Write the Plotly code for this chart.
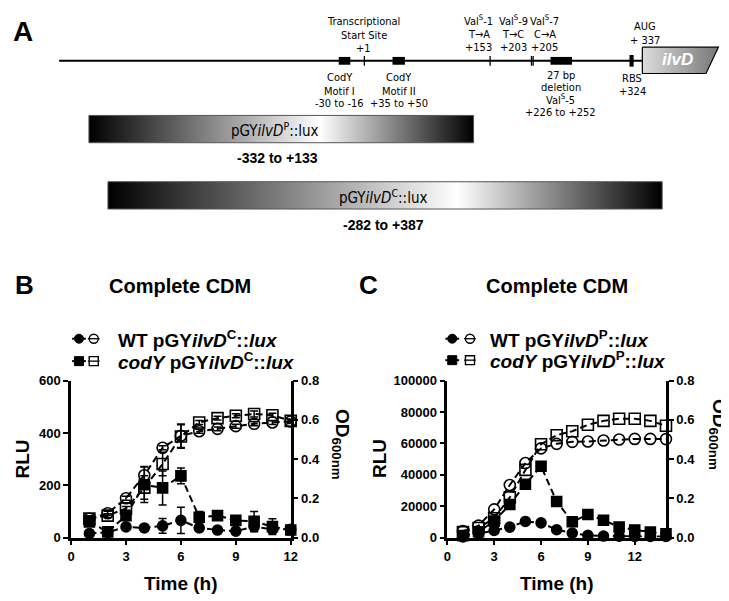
import plotly.graph_objects as go

W, H = 729, 601

# ---- panel B: complete CDM, pGYilvD^C::lux ----
hours_b = [1, 2, 3, 4, 5, 6, 7, 8, 9, 10, 11, 12]
wt_rlu_b = [16, 20, 41, 37, 45, 66, 37, 29, 25, 42, 32, 32]
wt_rlu_b_sd = [6, 4, 10, 6, 28, 50, 8, 12, 10, 20, 15, 10]
cody_rlu_b = [60, 22, 84, 202, 190, 236, 78, 84, 66, 62, 42, 29]
cody_rlu_b_sd = [15, 5, 15, 68, 65, 30, 22, 8, 18, 38, 30, 18]
wt_od_b = [0.096, 0.124, 0.201, 0.318, 0.458, 0.519, 0.542, 0.554, 0.568, 0.580, 0.587, 0.592]
wt_od_b_sd = [0.01, 0.01, 0.01, 0.045, 0.01, 0.06, 0.01, 0.01, 0.01, 0.01, 0.01, 0.01]
cody_od_b = [0.097, 0.112, 0.149, 0.255, 0.375, 0.515, 0.587, 0.609, 0.621, 0.630, 0.624, 0.595]
cody_od_b_sd = [0.015, 0.01, 0.01, 0.06, 0.06, 0.06, 0.01, 0.01, 0.01, 0.015, 0.01, 0.01]

# ---- panel C: complete CDM, pGYilvD^P::lux ----
hours_c = [1, 2, 3, 4, 5, 6, 7, 8, 9, 10, 11, 12, 13, 14]
wt_rlu_c = [400, 2500, 4600, 6700, 10300, 9400, 5000, 2900, 1400, 1000, 900, 800, 700, 700]
cody_rlu_c = [1300, 3700, 10500, 21100, 34000, 45500, 23000, 10100, 14700, 11100, 6800, 4900, 3600, 2400]
wt_od_c = [0.033, 0.061, 0.144, 0.268, 0.38, 0.455, 0.478, 0.488, 0.49, 0.495, 0.5, 0.503, 0.503, 0.502]
cody_od_c = [0.028, 0.049, 0.099, 0.205, 0.345, 0.476, 0.522, 0.542, 0.575, 0.595, 0.606, 0.606, 0.595, 0.570]

# ---- panel A: features on the ilvD promoter (bp relative to +1) ----
tss = 1
motifs = [(-30, -16), (35, 50)]
snps = [153, 203, 205]
deletion = (226, 252)
rbs = 324
aug = 337

ARIAL = "Arial, Liberation Sans, sans-serif"
NARROW = "Liberation Sans Narrow, Arial Narrow, DejaVu Sans Condensed, Liberation Sans"


def fx(x):
    return x / W


def fy(y):
    return 1 - y / H


fig = go.Figure()


def series(x, y, sd, xa, ya, symbol, size):
    fig.add_trace(go.Scatter(
        x=x, y=y, xaxis=xa, yaxis=ya, mode="lines+markers",
        line=dict(color="black", width=2, dash="7px,4px"),
        marker=dict(symbol=symbol, size=size, color="black", line=dict(color="black", width=1.6)),
        error_y=dict(type="data", array=sd, color="black", thickness=1.5, width=4, visible=sd is not None),
        cliponaxis=False, showlegend=False, hoverinfo="skip"))


series(hours_b, wt_od_b, wt_od_b_sd, "x", "y2", "circle-open", 11)
series(hours_b, cody_od_b, cody_od_b_sd, "x", "y2", "square-open", 11)
series(hours_b, wt_rlu_b, wt_rlu_b_sd, "x", "y", "circle", 10)
series(hours_b, cody_rlu_b, cody_rlu_b_sd, "x", "y", "square", 10)

series(hours_c, wt_od_c, None, "x2", "y4", "circle-open", 11)
series(hours_c, cody_od_c, None, "x2", "y4", "square-open", 11)
series(hours_c, wt_rlu_c, None, "x2", "y3", "circle", 10)
series(hours_c, cody_rlu_c, None, "x2", "y3", "square", 10)

# gradient construct bars (panel A)
def gradient_bar(x0, x1, y0, y1, peak):
    fig.add_trace(go.Scatter(
        x=[x0, x1, x1, x0, x0], y=[y0, y0, y1, y1, y0], xaxis="x3", yaxis="y5",
        mode="lines", fill="toself", line=dict(color="#555", width=1),
        fillgradient=dict(type="horizontal", colorscale=[[0, "black"], [peak, "white"], [1, "black"]]),
        showlegend=False, hoverinfo="skip"))


gradient_bar(-332, 133, 103, 131, 0.6)
gradient_bar(-309, 361, 171, 199, 0.63)

# ilvD gene arrow box
fig.add_trace(go.Scatter(
    x=[aug, 429, 414, aug, aug], y=[33, 33, 60, 60, 33], xaxis="x3", yaxis="y5",
    mode="lines", fill="toself", line=dict(color="black", width=1.2),
    fillgradient=dict(type="horizontal", colorscale=[[0, "#dcdcdc"], [1, "#777777"]]),
    showlegend=False, hoverinfo="skip"))

shapes = []
LINE_Y = 47
shapes.append(dict(type="line", xref="x3", yref="y5", x0=-368, x1=aug, y0=LINE_Y, y1=LINE_Y,
                   line=dict(color="black", width=2)))
for p in [tss] + snps:
    shapes.append(dict(type="line", xref="x3", yref="y5", x0=p, x1=p, y0=LINE_Y - 5, y1=LINE_Y + 5,
                       line=dict(color="black", width=1.3)))
for a, b in motifs + [deletion]:
    shapes.append(dict(type="rect", xref="x3", yref="y5", x0=a, x1=b, y0=LINE_Y - 4, y1=LINE_Y + 4,
                       fillcolor="black", line=dict(width=0)))
shapes.append(dict(type="rect", xref="x3", yref="y5", x0=rbs - 2.5, x1=rbs + 2.5, y0=LINE_Y - 6, y1=LINE_Y + 6,
                   fillcolor="black", line=dict(width=0)))


# legends drawn as keys (filled + open symbol per row)
def legend_key(xf, xo, y, kind):
    r = 4.6
    shapes.append(dict(type="line", xref="paper", yref="paper", x0=fx(xf - 7), x1=fx(xf + 7),
                       y0=fy(y), y1=fy(y), line=dict(color="black", width=2)))
    shapes.append(dict(type="line", xref="paper", yref="paper", x0=fx(xo - 6), x1=fx(xo + 6),
                       y0=fy(y), y1=fy(y), line=dict(color="black", width=1.3)))
    shapes.append(dict(type=kind, xref="paper", yref="paper", x0=fx(xf - r), x1=fx(xf + r),
                       y0=fy(y + r), y1=fy(y - r), fillcolor="black", line=dict(color="black", width=1)))
    shapes.append(dict(type=kind, xref="paper", yref="paper", x0=fx(xo - r), x1=fx(xo + r),
                       y0=fy(y + r), y1=fy(y - r), fillcolor="rgba(0,0,0,0)",
                       line=dict(color="black", width=1.4)))


legend_key(68, 83, 332, "circle")
legend_key(68, 83, 355, "rect")
legend_key(447, 465, 332, "circle")
legend_key(447, 465, 354, "rect")

ann = []


def text(x, y, s, size, bold=False, family=ARIAL, color="black", angle=0, xanchor="center"):
    ann.append(dict(x=fx(x), y=fy(y), xref="paper", yref="paper", text=s, showarrow=False,
                    xanchor=xanchor, yanchor="middle", textangle=angle,
                    font=dict(family=family, size=size, color=color, weight="bold" if bold else "normal")))


def block(x, ys, lines, size=11):
    for yy, s in zip(ys, lines):
        text(x, yy, s, size, family=NARROW)


# panel A labels
text(11, 17, "A", 28, bold=True)
block(357, [7, 21, 34], ["Transcriptional", "Start Site", "+1"])
block(474, [6, 20, 33], ["Val<sup>S</sup>-1", "T\u2192A", "+153"])
block(509, [6, 20, 33], ["Val<sup>S</sup>-9", "T\u2192C", "+203"])
block(541, [6, 20, 33], ["Val<sup>S</sup>-7", "C\u2192A", "+205"])
block(643, [12, 26], ["AUG", "+ 337"])
block(333, [64, 78, 91], ["CodY", "Motif I", "-30 to -16"])
block(393, [64, 78, 91], ["CodY", "Motif II", "+35 to +50"])
block(557, [62, 74, 87, 100], ["27 bp", "deletion", "Val<sup>S</sup>-5", "+226 to +252"])
block(630, [65, 78], ["RBS", "+324"])
text(676, 46, "<i>ilvD</i>", 17, bold=True, color="white")
text(267, 118, "pGY<i>ilvD</i><sup>P</sup>::lux", 15, family=NARROW)
text(270, 147, "-332 to +133", 14, bold=True)
text(377, 187, "pGY<i>ilvD</i><sup>C</sup>::lux", 15, family=NARROW)
text(377, 215, "-282 to +387", 14, bold=True)

# panels B and C labels
text(13, 277, "B", 26, bold=True)
text(362, 277, "C", 26, bold=True)
text(171, 278, "Complete CDM", 20, bold=True)
text(553, 278, "Complete CDM", 20, bold=True)
text(106, 332, "WT pGY<i>ilvD</i><sup>C</sup>::<i>lux</i>", 19, bold=True, xanchor="left")
text(106, 355, "<i>codY</i> pGY<i>ilvD</i><sup>C</sup>::<i>lux</i>", 19, bold=True, xanchor="left")
text(483, 332, "WT pGY<i>ilvD</i><sup>P</sup>::<i>lux</i>", 19, bold=True, xanchor="left")
text(483, 354, "<i>codY</i> pGY<i>ilvD</i><sup>P</sup>::<i>lux</i>", 19, bold=True, xanchor="left")
text(11, 455, "RLU", 19, bold=True, angle=-90)
text(373, 455, "RLU", 19, bold=True, angle=-90)
text(172, 583, "Time (h)", 19, bold=True)
text(553, 583, "Time (h)", 19, bold=True)
text(334, 441, "OD<sub>600nm</sub>", 19, bold=True, angle=90)
text(717, 430, "OD<sub>600nm</sub>", 19, bold=True, angle=90)

axis = dict(showline=True, linecolor="black", linewidth=2.5, ticks="outside", ticklen=5, tickwidth=2,
            tickcolor="black", showgrid=False, zeroline=False,
            tickfont=dict(family=ARIAL, size=13, color="black", weight="bold"))
ydom = [fy(536), fy(375)]

fig.update_layout(
    width=W, height=H, margin=dict(l=0, r=0, t=0, b=0),
    paper_bgcolor="white", plot_bgcolor="rgba(0,0,0,0)", showlegend=False,
    xaxis=dict(axis, domain=[fx(60), fx(283)], range=[0, 12], tickvals=[0, 3, 6, 9, 12], anchor="y"),
    yaxis=dict(axis, domain=ydom, range=[0, 600], tickvals=[0, 200, 400, 600], anchor="x"),
    yaxis2=dict(axis, overlaying="y", side="right", anchor="x", range=[0, 0.8],
                tickvals=[0, 0.2, 0.4, 0.6, 0.8], tickformat=".1f"),
    xaxis2=dict(axis, domain=[fx(442), fx(664)], range=[0, 14], tickvals=[0, 3, 6, 9, 12], anchor="y3"),
    yaxis3=dict(axis, domain=ydom, range=[0, 100000], tickvals=[0, 20000, 40000, 60000, 80000, 100000],
                tickformat="d", anchor="x2"),
    yaxis4=dict(axis, overlaying="y3", side="right", anchor="x2", range=[0, 0.8],
                tickvals=[0, 0.2, 0.4, 0.6, 0.8], tickformat=".1f"),
    xaxis3=dict(domain=[0, 1], range=[-425, 443], visible=False, anchor="y5", fixedrange=True),
    yaxis5=dict(domain=[0, 1], range=[H, 0], visible=False, anchor="x3", fixedrange=True),
    shapes=shapes, annotations=ann,
)

fig.write_html("out.html")
